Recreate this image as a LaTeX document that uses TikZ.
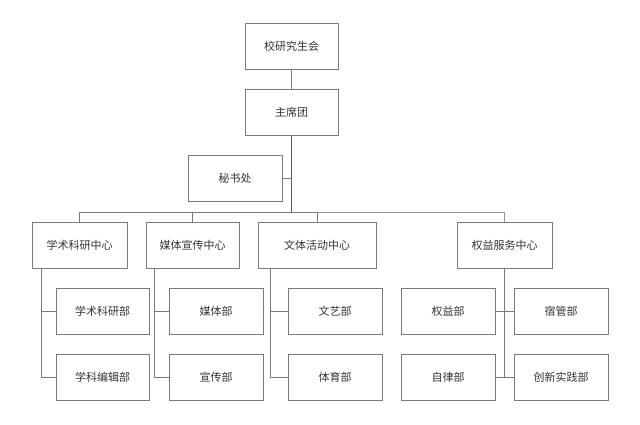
\documentclass[tikz,border=0pt]{standalone}
\usepackage{fontspec}
\setmainfont{Noto Sans CJK SC}
\usepackage{xcolor}
\definecolor{boxline}{HTML}{7A7A7A}
\definecolor{txt}{HTML}{333333}

\begin{document}
\begin{tikzpicture}[x=1pt,y=-1pt,
    box/.style={draw=boxline,line width=1pt,minimum height=46pt,minimum width=93pt,inner sep=0pt,
        text=txt,font=\fontsize{11}{13}\selectfont},
    link/.style={draw=boxline,line width=1pt}]
        \useasboundingbox (0,0) rectangle (640,424);
        % top levels
        \node[box] (union) at (291.5,46) {校研究生会};
        \node[box] (chair) at (291.5,112.5) {主席团};
        \node[box,minimum width=94pt] (sec) at (235,178.5) {秘书处};
        \coordinate (bus) at (0,212);
        % centres
        \node[box,minimum width=95pt] (c1) at (79.5,245) {学术科研中心};
        \node[box] (c2) at (192.5,245) {媒体宣传中心};
        \node[box,minimum width=118pt] (c3) at (317,245) {文体活动中心};
        \node[box,minimum width=95pt] (c4) at (504.5,245) {权益服务中心};
        % departments
        \node[box] (d11) at (102.5,311.5) {学术科研部};
        \node[box] (d12) at (102.5,377.5) {学科编辑部};
        \node[box,minimum width=94pt] (d21) at (216,311.5) {媒体部};
        \node[box,minimum width=94pt] (d22) at (216,377.5) {宣传部};
        \node[box,minimum width=94pt] (d31) at (335,311.5) {文艺部};
        \node[box,minimum width=94pt] (d32) at (335,377.5) {体育部};
        \node[box,minimum width=94pt] (d41) at (448,311.5) {权益部};
        \node[box,minimum width=94pt] (d42) at (448,377.5) {自律部};
        \node[box,minimum width=94pt] (d43) at (561,311.5) {宿管部};
        \node[box,minimum width=94pt] (d44) at (561,377.5) {创新实践部};
        % connectors
        \draw[link] (union.south) -- (chair.north);
        \draw[link,line width=1.4pt,draw=black!65] (chair.south) -- (chair.south |- bus);
        \draw[link] (sec.east) -- (sec.east -| chair.south);
        \draw[link] (c1.north) |- (bus -| c3.north) -- (c3.north);
        \draw[link,draw=gray!50!cyan!40!gray] (bus -| c3.north) -| (c4.north);
        \draw[link] (c2.north) -- (c2.north |- bus);
        \draw[link] ([xshift=10pt]c1.south west) |- (d12.west);
        \draw[link] ([xshift=10pt]c1.south west |- d11.west) -- (d11.west);
        \draw[link] ([xshift=9pt]c2.south west) |- (d22.west);
        \draw[link] ([xshift=9pt]c2.south west |- d21.west) -- (d21.west);
        \draw[link] ([xshift=13pt]c3.south west) |- (d32.west);
        \draw[link] ([xshift=13pt]c3.south west |- d31.west) -- (d31.west);
        \draw[link] (c4.south) -- (c4.south |- d42.east);
        \draw[link] (d41.east) -- (d43.west);
        \draw[link] (d42.east) -- (d44.west);
    \end{tikzpicture}
\end{document}
